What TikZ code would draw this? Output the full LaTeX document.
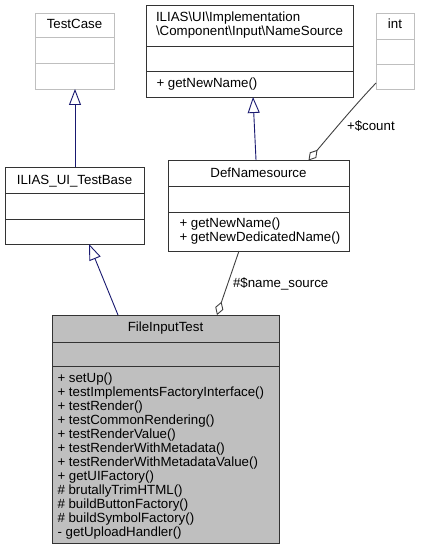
\documentclass[tikz,border=0pt]{standalone}
\usepackage{fontspec}
\setmainfont{Liberation Sans}
\usetikzlibrary{arrows.meta,calc}
\definecolor{edgeblue}{HTML}{191970}
\definecolor{edgegray}{HTML}{404040}
\definecolor{boxline}{HTML}{333333}
\definecolor{ghostline}{HTML}{BFBFBF}
\definecolor{curfill}{HTML}{BFBFBF}
\begin{document}
\begin{tikzpicture}[x=1pt,y=-1pt,
  cls/.style={draw=boxline, line width=0.9pt, fill=white, anchor=north west, inner sep=0pt, outer sep=0pt},
  ghost/.style={cls, draw=ghostline},
  cur/.style={cls, fill=curfill},
  txt/.style={font=\fontsize{13.3}{14}\selectfont, inner sep=0pt, outer sep=0pt},
  ttl/.style={txt, anchor=base},
  mem/.style={txt, anchor=base west},
  divline/.style={draw=boxline, line width=0.9pt},
  ghostdiv/.style={draw=ghostline, line width=0.9pt},
  inherit/.style={draw=edgeblue, line width=0.9pt, -{Triangle[open, length=16pt, width=12pt, line width=0.9pt]}},
  aggreg/.style={draw=edgegray, line width=0.9pt, -{Diamond[open, length=14pt, width=8.5pt, line width=0.9pt]}},
  lbl/.style={txt, anchor=base west}
]
\useasboundingbox (0,0) rectangle (421,559);

% boxes
\node[ghost, minimum width=79pt, minimum height=76pt] (testcase) at (35,13) {};
\node[cls, minimum width=207pt, minimum height=92pt] (namesrc) at (146,5) {};
\node[ghost, minimum width=38pt, minimum height=76pt] (intbox) at (376,13) {};
\node[cls, minimum width=139pt, minimum height=77pt] (testbase) at (5,167) {};
\node[cls, minimum width=181pt, minimum height=91pt] (defns) at (168,160) {};
\node[cur, minimum width=227pt, minimum height=228pt] (fit) at (52,315) {};

% dividers
\draw[ghostdiv] (testcase.west |- 0,37) -- (testcase.east |- 0,37);
\draw[ghostdiv] (testcase.west |- 0,63) -- (testcase.east |- 0,63);
\draw[divline] (namesrc.west |- 0,46) -- (namesrc.east |- 0,46);
\draw[divline] (namesrc.west |- 0,71) -- (namesrc.east |- 0,71);
\draw[ghostdiv] (intbox.west |- 0,39) -- (intbox.east |- 0,39);
\draw[ghostdiv] (intbox.west |- 0,64) -- (intbox.east |- 0,64);
\draw[divline] (testbase.west |- 0,193) -- (testbase.east |- 0,193);
\draw[divline] (testbase.west |- 0,219) -- (testbase.east |- 0,219);
\draw[divline] (defns.west |- 0,186) -- (defns.east |- 0,186);
\draw[divline] (defns.west |- 0,212) -- (defns.east |- 0,212);
\draw[divline] (fit.west |- 0,342) -- (fit.east |- 0,342);
\draw[divline] (fit.west |- 0,366) -- (fit.east |- 0,366);

% titles
\node[ttl] (tctitle) at (74.5,29) {TestCase};
\node[mem] (nstitle1) at (156,21.5) {ILIAS\textbackslash UI\textbackslash Implementation};
\node[mem] (nstitle2) at (156,35.5) {\textbackslash Component\textbackslash Input\textbackslash NameSource};
\node[mem] (nsm1) at (156.5,88) {+ getNewName()};
\node[ttl] (inttitle) at (395,29) {int};
\node[ttl] (tbtitle) at (74.5,184.5) {ILIAS\_UI\_TestBase};
\node[ttl] (dntitle) at (258.5,177) {DefNamesource};
\node[mem] (dnm1) at (179.5,227.5) {+ getNewName()};
\node[mem] (dnm2) at (179.5,241.5) {+ getNewDedicatedName()};
\node[ttl] (fittitle) at (165.5,331.5) {FileInputTest};
\foreach \t [count=\i] in {{+ setUp()},{+ testImplementsFactoryInterface()},{+ testRender()},{+ testCommonRendering()},{+ testRenderValue()},{+ testRenderWithMetadata()},{+ testRenderWithMetadataValue()},{+ getUIFactory()},{\# brutallyTrimHTML()},{\# buildButtonFactory()},{\# buildSymbolFactory()},{- getUploadHandler()}}
  \node[mem] (fm\i) at (57.5,{382.5+14*(\i-1)}) {\t};

% connector end points
\coordinate (tbtop) at ([xshift=70pt]testbase.north west);
\coordinate (tcbot) at ([xshift=40pt]testcase.south west);
\coordinate (dntop) at ([xshift=88pt]defns.north west);
\coordinate (nsbot) at ([xshift=107pt]namesrc.south west);
\coordinate (fittop) at ([xshift=66pt]fit.north west);
\coordinate (tbbot) at ([xshift=84pt]testbase.south west);
\coordinate (intleft) at ([yshift=-70pt]intbox.north west);
\coordinate (dntopr) at ([xshift=140.5pt,yshift=-0.5pt]defns.north west);
\coordinate (dnbot) at ([xshift=71pt]defns.south west);
\coordinate (fittopr) at ([xshift=165pt]fit.north west);

% connectors
\draw[inherit] (tbtop) -- (tcbot);
\draw[inherit] (dntop) -- (nsbot);
\draw[inherit] (fittop) -- (tbbot);
\draw[aggreg] (intleft) .. controls (355,105) and (330,135) .. (dntopr);
\draw[aggreg] (dnbot) -- (fittopr);

% labels
\node[lbl] (countlbl) at (347,131) {+\$count};
\node[lbl] (nslbl) at (233,287.5) {\#\$name\_source};
\end{tikzpicture}
\end{document}
